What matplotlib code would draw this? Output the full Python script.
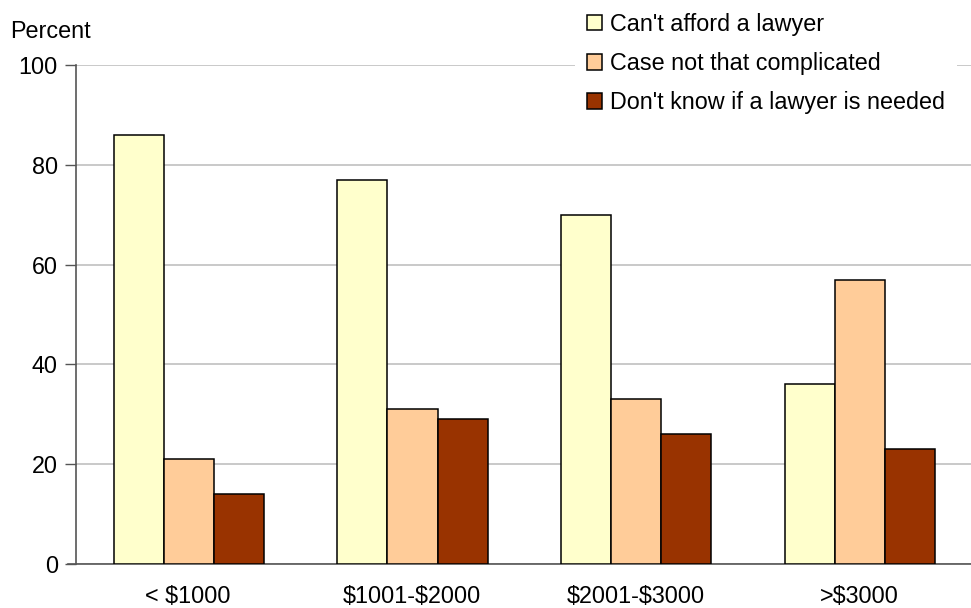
import matplotlib.pyplot as plt
import numpy as np

categories = ['< \\$1000', '\\$1001-\\$2000', '\\$2001-\\$3000', '>\\$3000']
series_names = ["Can't afford a lawyer", "Case not that complicated",
                "Don't know if a lawyer is needed"]
cant_afford = [86, 77, 70, 36]
not_complicated = [21, 31, 33, 57]
dont_know = [14, 29, 26, 23]
colors = ['#FFFFCC', '#FFCC99', '#993300']

plt.rcParams['font.family'] = ['Liberation Sans', 'DejaVu Sans']
fs = 16.8

fig = plt.figure(figsize=(9.71, 6.08), dpi=100)
ax = fig.add_axes([76/971, 1 - 564/608, 1 - 76/971, (564 - 65)/608])

x = np.arange(len(categories))
w = 0.224
for i, vals in enumerate([cant_afford, not_complicated, dont_know]):
    ax.bar(x + (i - 1)*w + 0.004, vals, w, color=colors[i], edgecolor='black',
           linewidth=1.1, label=series_names[i], zorder=3)

ax.set_xlim(-0.5, len(categories) - 0.5)
ax.set_ylim(0, 100)
ax.set_yticks([0, 20, 40, 60, 80, 100])
ax.set_xticks(x)
ax.set_xticklabels(categories)
ax.tick_params(axis='x', length=0, pad=15, labelsize=fs)
ax.tick_params(axis='y', length=8, width=1, color='#555555', pad=5, labelsize=fs)
ax.yaxis.grid(True, color='#c0c0c0', linewidth=1.2, zorder=0)
for s in ['top', 'right']:
    ax.spines[s].set_visible(False)
ax.spines['left'].set_color('#555555')
ax.spines['bottom'].set_color('#555555')
ax.spines['left'].set_linewidth(1.2)
ax.spines['bottom'].set_linewidth(1.2)
ax.spines['bottom'].set_bounds(-0.5 - 8/223.75, len(categories) - 0.5)
ax.spines['bottom'].set_clip_on(False)

fig.text(10/971, 1 - 32/608, 'Percent', fontsize=fs, va='center', ha='left')

leg = ax.legend(loc='upper left', bbox_to_anchor=(575/971, 1 - 1/608),
                bbox_transform=fig.transFigure, frameon=True, fancybox=False,
                facecolor='white', edgecolor='none', framealpha=1, fontsize=fs,
                handlelength=0.65, handleheight=0.65, handletextpad=0.35,
                labelspacing=0.7, borderaxespad=0, borderpad=0.5)
leg.set_zorder(5)

fig.savefig('out.png', dpi=100)
